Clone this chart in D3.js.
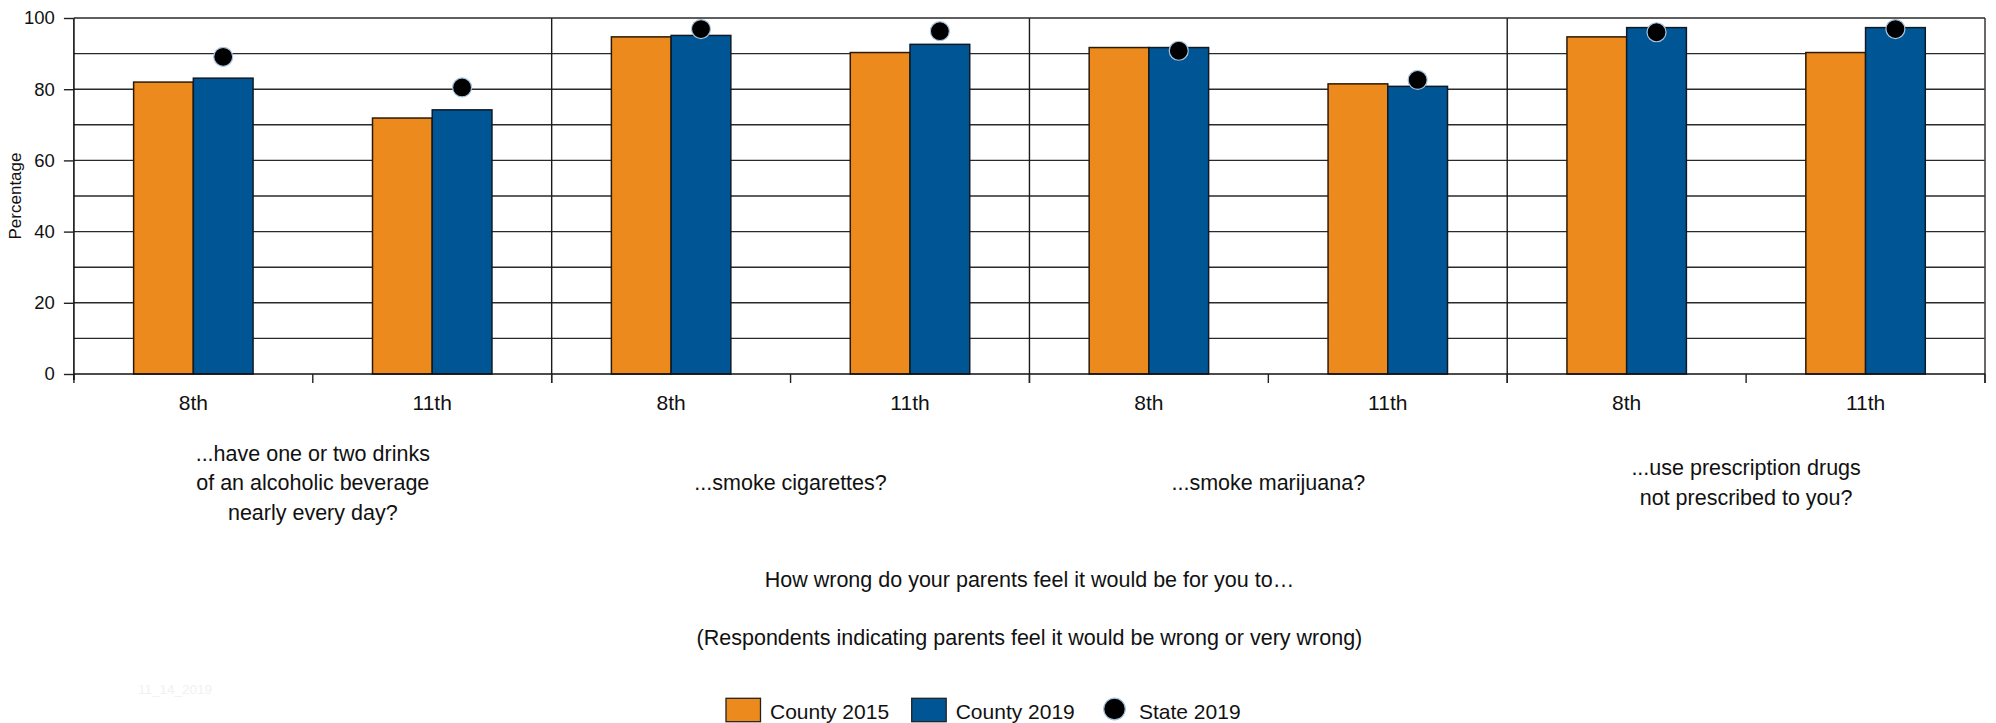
<!DOCTYPE html>
<html>
<head>
<meta charset="utf-8">
<script src="https://cdn.jsdelivr.net/npm/d3@7"></script>
<style>
  html, body { margin: 0; padding: 0; background: #fff; }
  svg { display: block; }
  text { font-family: "Liberation Sans", Arial, sans-serif; fill: #111; }
</style>
</head>
<body>
<svg id="chart" width="1996" height="723"></svg>
<script>
// ---------- DATA ----------
const groups = [
  ["...have one or two drinks", "of an alcoholic beverage", "nearly every day?"],
  ["...smoke cigarettes?"],
  ["...smoke marijuana?"],
  ["...use prescription drugs", "not prescribed to you?"]
];
const grades = ["8th", "11th"];
const seriesNames = ["County 2015", "County 2019", "State 2019"];
const county2015 = [82.0, 71.9, 94.7, 90.3, 91.7, 81.5, 94.7, 90.3];
const county2019 = [83.1, 74.2, 95.1, 92.6, 91.7, 80.8, 97.3, 97.3];
const state2019  = [89.1, 80.5, 96.9, 96.3, 90.8, 82.6, 96.0, 96.9];
const yTicks = [0, 20, 40, 60, 80, 100];
const yGrid = [10, 20, 30, 40, 50, 60, 70, 80, 90];
const yLabel = "Percentage";
const titleLines = [
  "How wrong do your parents feel it would be for you to\u2026",
  "(Respondents indicating parents feel it would be wrong or very wrong)"
];
const stamp = "11_14_2019";

// ---------- STYLE ----------
const colors = { "County 2015": "#EC8A1E", "County 2019": "#005695" };
const W = 1996, H = 723;
const L = 73.9, R = 1985, T = 18, B = 374;

const svg = d3.select("#chart");

const cats = [];
groups.forEach((g, gi) => grades.forEach((gr, ri) => cats.push(gi + "_" + ri)));

const x0 = d3.scaleBand().domain(cats).range([L, R]).padding(0);
const bw = x0.bandwidth();
const x1 = d3.scaleBand().domain(["County 2015", "County 2019"])
  .range([0, bw]).paddingInner(0).paddingOuter(1);
const xg = d3.scaleBand().domain(groups.map((g, i) => i)).range([L, R]).padding(0);
const y = d3.scaleLinear().domain([0, 100]).range([B, T]);

// gridlines
svg.append("g").selectAll("line").data(yGrid).join("line")
  .attr("x1", L).attr("x2", R)
  .attr("y1", d => y(d)).attr("y2", d => y(d))
  .attr("stroke", "#2a2a2a").attr("stroke-width", 1.4);

// group dividers + right border (extend as ticks below axis)
svg.append("g").selectAll("line").data([1, 2, 3]).join("line")
  .attr("x1", d => xg(d)).attr("x2", d => xg(d))
  .attr("y1", T).attr("y2", B + 9)
  .attr("stroke", "#1a1a1a").attr("stroke-width", 1.4);
svg.append("line").attr("x1", R).attr("x2", R).attr("y1", T).attr("y2", B + 9)
  .attr("stroke", "#444").attr("stroke-width", 1.6);
// top border
svg.append("line").attr("x1", L).attr("x2", R).attr("y1", y(100)).attr("y2", y(100))
  .attr("stroke", "#2a2a2a").attr("stroke-width", 1.6);

// bars
const rows = cats.map((c, i) => ({ key: c, vals: [
  { s: "County 2015", v: county2015[i] },
  { s: "County 2019", v: county2019[i] }
], state: state2019[i] }));

const gBars = svg.append("g").selectAll("g").data(rows).join("g")
  .attr("transform", d => `translate(${x0(d.key)},0)`);
gBars.selectAll("rect").data(d => d.vals).join("rect")
  .attr("x", d => x1(d.s))
  .attr("width", x1.bandwidth())
  .attr("y", d => y(d.v))
  .attr("height", d => y(0) - y(d.v))
  .attr("fill", d => colors[d.s])
  .attr("stroke", d => d.s === "County 2015" ? "#2b1a08" : "#0e1a26")
  .attr("stroke-width", 1.5);

// state dots
gBars.append("circle")
  .attr("cx", x1("County 2019") + x1.bandwidth() / 2)
  .attr("cy", d => y(d.state))
  .attr("r", 9.5)
  .attr("fill", "#000")
  .attr("stroke", "#a9c3de").attr("stroke-width", 1.2);

// x axis baseline
svg.append("line").attr("x1", L).attr("x2", R).attr("y1", B).attr("y2", B)
  .attr("stroke", "#111").attr("stroke-width", 1.6);
// x category ticks
const bounds = cats.map(c => x0(c)).concat([R]);
svg.append("g").selectAll("line").data(bounds).join("line")
  .attr("x1", d => d).attr("x2", d => d).attr("y1", B).attr("y2", B + 9)
  .attr("stroke", "#222").attr("stroke-width", 1.4);

// y axis
const yAxis = d3.axisLeft(y).tickValues(yTicks).tickSize(10).tickPadding(9).tickFormat(d3.format("d"));
const ga = svg.append("g").attr("transform", `translate(${L},0)`).call(yAxis);
ga.select(".domain").attr("d", `M0,${T}V${B + 6}`).attr("stroke", "#111").attr("stroke-width", 1.6);
ga.selectAll(".tick line").attr("stroke", "#222").attr("stroke-width", 1.4);
ga.selectAll(".tick text")
  .style("font-family", '"Liberation Sans Narrow", "Liberation Sans", sans-serif')
  .style("font-size", "18.5px").attr("fill", "#111");

// y label
svg.append("text")
  .attr("transform", `translate(20.5,${(T + B) / 2}) rotate(-90)`)
  .attr("text-anchor", "middle")
  .style("font-size", "17px")
  .text(yLabel);

// grade labels
svg.append("g").selectAll("text").data(cats).join("text")
  .attr("x", d => x0(d) + bw / 2)
  .attr("y", 410)
  .attr("text-anchor", "middle")
  .style("font-size", "21px")
  .text(d => grades[+d.split("_")[1]]);

// group labels
const lh = 29.5;
svg.append("g").selectAll("text").data(groups).join("text")
  .attr("text-anchor", "middle")
  .style("font-size", "21.5px")
  .each(function(lines, gi) {
    const t = d3.select(this);
    const cx = xg(gi) + xg.bandwidth() / 2;
    lines.forEach((ln, i) => {
      t.append("tspan").attr("x", cx)
        .attr("y", 490 + (i - (lines.length - 1) / 2) * lh)
        .text(ln);
    });
  });

// title lines
svg.append("g").selectAll("text").data(titleLines).join("text")
  .attr("x", (L + R) / 2)
  .attr("y", (d, i) => i === 0 ? 587 : 645)
  .attr("text-anchor", "middle")
  .style("font-size", "21.5px")
  .text(d => d);

// faint stamp
svg.append("text").attr("x", 138).attr("y", 694)
  .style("font-family", '"Liberation Sans Narrow", sans-serif')
  .style("font-size", "13.5px").attr("fill", "#f1f1f1").style("fill", "#f1f1f1")
  .text(stamp);

// legend
const leg = svg.append("g");
const legX = [726, 911.7, 1103];
seriesNames.forEach((s, i) => {
  const g = leg.append("g").attr("transform", `translate(${legX[i]},0)`);
  if (i < 2) {
    g.append("rect").attr("x", 0).attr("y", 698.3).attr("width", 34.5).attr("height", 23.4)
      .attr("fill", colors[s]).attr("stroke", "#222").attr("stroke-width", 1.3);
    g.append("text").attr("x", 44).attr("y", 719).style("font-size", "21px").text(s);
  } else {
    g.append("circle").attr("cx", 11.5).attr("cy", 709).attr("r", 10.8)
      .attr("fill", "#000").attr("stroke", "#a9c3de").attr("stroke-width", 1.2);
    g.append("text").attr("x", 36).attr("y", 719).style("font-size", "21px").text(s);
  }
});
</script>
</body>
</html>
